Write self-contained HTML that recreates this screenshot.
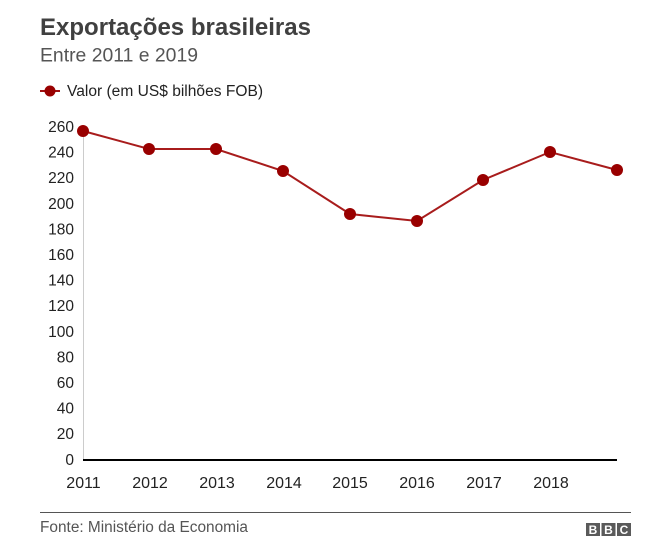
<!DOCTYPE html>
<html><head><meta charset="utf-8"><style>
html,body{margin:0;padding:0;background:#fff;}
body{width:654px;height:546px;overflow:hidden;}
svg{display:block;}
text{font-family:"Liberation Sans",Arial,sans-serif;}
</style></head><body>
<svg width="654" height="546" viewBox="0 0 654 546" xmlns="http://www.w3.org/2000/svg">
<text x="40" y="35" font-size="24" font-weight="bold" fill="#404040" textLength="271" lengthAdjust="spacingAndGlyphs">Exportações brasileiras</text>
<text x="40" y="61.5" font-size="19" fill="#555" textLength="158" lengthAdjust="spacingAndGlyphs">Entre 2011 e 2019</text>
<line x1="40" y1="91" x2="60" y2="91" stroke="#a01010" stroke-width="2"/>
<circle cx="50" cy="91" r="5.5" fill="#990000"/>
<text x="67" y="96" font-size="15.5" fill="#222" textLength="196" lengthAdjust="spacingAndGlyphs">Valor (em US$ bilhões FOB)</text>
<g font-size="15.5" fill="#222" text-anchor="end">
<text x="74" y="132">260</text>
<text x="74" y="157.6">240</text>
<text x="74" y="183.2">220</text>
<text x="74" y="208.8">200</text>
<text x="74" y="234.4">180</text>
<text x="74" y="260">160</text>
<text x="74" y="285.6">140</text>
<text x="74" y="311.2">120</text>
<text x="74" y="336.8">100</text>
<text x="74" y="362.4">80</text>
<text x="74" y="388">60</text>
<text x="74" y="413.6">40</text>
<text x="74" y="439.2">20</text>
<text x="74" y="464.8">0</text>
</g>
<line x1="83.5" y1="128" x2="83.5" y2="460" stroke="#ccc" stroke-width="1"/>
<line x1="83" y1="460" x2="617" y2="460" stroke="#000" stroke-width="2"/>
<g font-size="16" fill="#222" text-anchor="middle">
<text x="83.5" y="488">2011</text>
<text x="150" y="488">2012</text>
<text x="217" y="488">2013</text>
<text x="284" y="488">2014</text>
<text x="350" y="488">2015</text>
<text x="417" y="488">2016</text>
<text x="484" y="488">2017</text>
<text x="551" y="488">2018</text>
</g>
<polyline points="83,131 149,149 216,149 283,171 350,214 417,221 483,180 550,152 617,170" fill="none" stroke="#a81c1c" stroke-width="2"/>
<g fill="#990000">
<circle cx="83" cy="131" r="6"/>
<circle cx="149" cy="149" r="6"/>
<circle cx="216" cy="149" r="6"/>
<circle cx="283" cy="171" r="6"/>
<circle cx="350" cy="214" r="6"/>
<circle cx="417" cy="221" r="6"/>
<circle cx="483" cy="180" r="6"/>
<circle cx="550" cy="152" r="6"/>
<circle cx="617" cy="170" r="6"/>
</g>
<line x1="40" y1="512.5" x2="631" y2="512.5" stroke="#555" stroke-width="1"/>
<text x="40" y="532" font-size="15.4" fill="#555" textLength="208" lengthAdjust="spacingAndGlyphs">Fonte: Ministério da Economia</text>
<g fill="#5a5a5a">
<rect x="586" y="523" width="14" height="13"/>
<rect x="601.5" y="523" width="14" height="13"/>
<rect x="617" y="523" width="14" height="13"/>
</g>
<g font-size="12" font-weight="bold" fill="#fff" text-anchor="middle">
<text x="593" y="534">B</text>
<text x="608.5" y="534">B</text>
<text x="624" y="534">C</text>
</g>
</svg>
</body></html>
